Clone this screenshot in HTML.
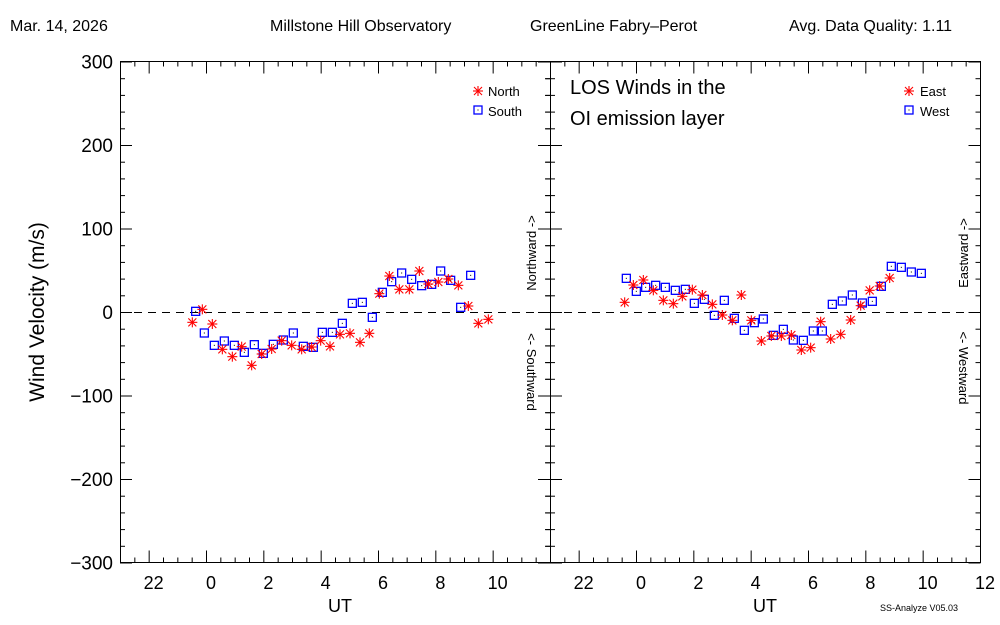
<!DOCTYPE html>
<html><head><meta charset="utf-8"><style>
html,body{margin:0;padding:0;background:#fff;width:1000px;height:625px;overflow:hidden}
svg text{font-family:"Liberation Sans",sans-serif;fill:#000}
</style></head><body>
<svg id="s" width="1000" height="625" viewBox="0 0 1000 625" xmlns="http://www.w3.org/2000/svg">
<rect width="1000" height="625" fill="#fff"/>
<g font-size="16">
<text x="10" y="31">Mar. 14, 2026</text>
<text x="270" y="31">Millstone Hill Observatory</text>
<text x="530" y="31">GreenLine Fabry–Perot</text>
<text x="789" y="31">Avg. Data Quality: 1.11</text>
</g>
<text x="44" y="312" font-size="21" text-anchor="middle" transform="rotate(-90 44 312)">Wind Velocity (m/s)</text>
<text x="570" y="94" font-size="20">LOS Winds in the</text>
<text x="570" y="125" font-size="20">OI emission layer</text>
<g font-size="13">
<text x="488" y="96">North</text><text x="488" y="116">South</text>
<text x="920" y="96">East</text><text x="920" y="116">West</text>
<text x="536" y="253" text-anchor="middle" transform="rotate(-90 536 253)">Northward -&gt;</text>
<text x="527" y="372" text-anchor="middle" transform="rotate(90 527 372)">&lt;- Southward</text>
<text x="968" y="253" text-anchor="middle" transform="rotate(-90 968 253)">Eastward -&gt;</text>
<text x="959" y="368" text-anchor="middle" transform="rotate(90 959 368)">&lt;- Westward</text>
</g>
<text x="880" y="611" font-size="9">SS-Analyze V05.03</text>
<text x="340" y="612" font-size="18" text-anchor="middle">UT</text>
<text x="765" y="612" font-size="18" text-anchor="middle">UT</text>
<g id="ax" stroke="#000" stroke-width="1" fill="none"></g>
<g id="lab" font-size="18"></g>
<g id="pts"></g>
</svg>
<script>
var NS="http://www.w3.org/2000/svg";
function el(p,t,a,txt){var e=document.createElementNS(NS,t);for(var k in a)e.setAttribute(k,a[k]);if(txt!=null)e.textContent=txt;p.appendChild(e);return e;}
var ax=document.getElementById('ax'),lab=document.getElementById('lab'),pts=document.getElementById('pts');
var T=61.5,B=562.5;
function Y(v){return 312-v*0.835;}
[[120,550],[550,980]].forEach(function(p,pi){
  var L=p[0],R=p[1];
  el(ax,'rect',{x:L+.5,y:T,width:R-L,height:B-T});
  for(var i=0;i<=30;i++){var x=L+i*14.333+.5;var len=(i%4==2)?12:5;
    el(ax,'line',{x1:x,y1:B,x2:x,y2:B-len});el(ax,'line',{x1:x,y1:T,x2:x,y2:T+len});}
  var labs=['22','0','2','4','6','8','10','12'];
  for(var j=0;j<labs.length;j++){var h=22+2*j;var x=L+(h-21)*28.667+5;
    if(pi==0&&j==7)continue;
    el(lab,'text',{x:x,y:589,'text-anchor':'middle'},labs[j]);}
  for(var v=-300;v<=300;v+=20){var y=Y(v)+.5;var len=(v%100==0)?12:5;
    el(ax,'line',{x1:L,y1:y,x2:L+len,y2:y});el(ax,'line',{x1:R+.5,y1:y,x2:R+.5-len,y2:y});
    if(pi==1){el(ax,'line',{x1:L,y1:y,x2:L-len,y2:y});}}
  el(ax,'line',{x1:L,y1:312.5,x2:R,y2:312.5,'stroke-dasharray':'8,6'});
});
for(var v=-300;v<=300;v+=100){el(lab,'text',{x:113,y:Y(v)+7,'text-anchor':'end','font-size':19},(v<0?'−':'')+Math.abs(v));}
function star(x,y){var g=el(pts,'g',{stroke:'#f00','stroke-width':1.1});
  el(g,'line',{x1:x-5,y1:y,x2:x+5,y2:y});el(g,'line',{x1:x,y1:y-5,x2:x,y2:y+5});
  el(g,'line',{x1:x-4,y1:y-4,x2:x+4,y2:y+4});el(g,'line',{x1:x-4,y1:y+4,x2:x+4,y2:y-4});}
function sq(x,y){el(pts,'rect',{x:x-4,y:y-4,width:8,height:8,fill:'none',stroke:'#00f','stroke-width':1.3});
  el(pts,'rect',{x:x-.5,y:y-.5,width:1,height:1,fill:'#000'});}
var LR=[[217,217],[247,178],[277,222],[307,298],[337,320],[365,290],[395,346],[425,312],[455,297],[485,272],[515,286],[545,298],[575,291],[602,272],[630,289],[660,253],[690,250],[720,277],[748,250],[778,131],[808,78],[838,118],[868,118],[898,63],[925,102],[955,96],[985,87],[1015,106],[1045,168],[1075,220],[1105,208]];
var LB=[[227,184],[253,249],[283,286],[313,273],[343,286],[373,307],[403,284],[430,310],[460,283],[490,270],[520,249],[550,289],[580,292],[607,247],[637,247],[667,220],[697,160],[727,157],[757,202],[787,127],[815,95],[845,69],[875,88],[905,107],[935,103],[962,63],[992,91],[1022,172],[1052,76]];
var RR=[[227,157],[253,105],[283,90],[313,121],[343,151],[373,161],[400,139],[430,119],[460,135],[490,163],[520,195],[550,211],[577,135],[607,211],[637,273],[667,258],[697,258],[727,255],[757,300],[785,293],[815,215],[845,267],[875,253],[905,210],[935,167],[962,121],[992,108],[1022,84]];
var RB=[[232,85],[262,124],[290,112],[320,106],[349,112],[379,121],[409,118],[436,160],[466,148],[496,196],[526,151],[556,205],[586,241],[616,218],[643,207],[673,256],[703,238],[733,270],[763,271],[793,243],[820,243],[850,163],[880,153],[910,135],[940,159],[970,154],[997,109],[1027,49],[1057,52],[1087,66],[1117,70]];
LB.forEach(function(p){sq(120+p[0]/3,250+p[1]/3);});
LR.forEach(function(p){star(120+p[0]/3,250+p[1]/3);});
RB.forEach(function(p){sq(549+p[0]/3,250+p[1]/3);});
RR.forEach(function(p){star(549+p[0]/3,250+p[1]/3);});
star(478,91);sq(478,110);star(909,91);sq(909,110);
</script>
</body></html>
